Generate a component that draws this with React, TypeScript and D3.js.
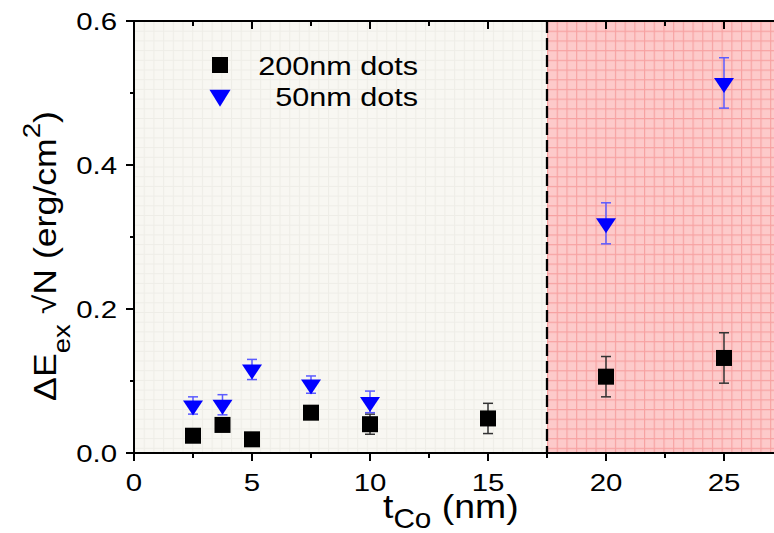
import React from "react";
import * as d3 from "d3";

const xs200 = [2.5, 3.75, 5, 7.5, 10, 15, 20, 25];
const ys200 = [0.024, 0.039, 0.019, 0.056, 0.040, 0.048, 0.106, 0.132];
const err200 = [0.003, 0.003, 0.003, 0.005, 0.014, 0.021, 0.028, 0.035];

const xs50 = [2.5, 3.75, 5, 7.5, 10, 20, 25];
const ys50 = [0.066, 0.067, 0.116, 0.095, 0.071, 0.319, 0.514];
const err50 = [0.012, 0.014, 0.014, 0.012, 0.015, 0.0285, 0.035];

const xTicks = [0, 5, 10, 15, 20, 25];
const xMinor = [2.5, 7.5, 12.5, 17.5, 22.5];
const yTicks = [0, 0.2, 0.4, 0.6];
const yMinor = [0.1, 0.3, 0.5];
const boundary = 17.5;
const legendLabels = ["200nm dots", "50nm dots"];

const W = 774, H = 533;
const L = 134, T = 21, B = 453;
const x = d3.scaleLinear().domain([0, 27.2]).range([L, L + 27.2 * 23.6]);
const y = d3.scaleLinear().domain([0, 0.6]).range([B, T]);

const FONT = "'Liberation Sans', Arial, Helvetica, sans-serif";
const SX = 1.2;

function tri(cx: number, cy: number, w = 20, h = 15) {
  // centroid at (cx, cy), pointing down
  const top = cy - h / 3;
  const apex = cy + (2 * h) / 3;
  return `M${cx - w / 2},${top}L${cx + w / 2},${top}L${cx},${apex}Z`;
}

function ErrBar({ cx, y0, y1, color }: { cx: number; y0: number; y1: number; color: string }) {
  return (
    <g stroke={color} strokeWidth={1.5}>
      <line x1={cx} x2={cx} y1={y0} y2={y1} />
      <line x1={cx - 5} x2={cx + 5} y1={y0} y2={y0} />
      <line x1={cx - 5} x2={cx + 5} y1={y1} y2={y1} />
    </g>
  );
}

export default function App() {
  const xb = x(boundary);
  const xr = W + 2;
  return (
    <svg width={W} height={H} style={{ position: "absolute", left: 0, top: 0 }} fontFamily={FONT}>
      <defs>
        <pattern id="pl" width={9.7} height={9.7} patternUnits="userSpaceOnUse" x={L} y={T}>
          <rect width={9.7} height={9.7} fill="#f8f7f2" />
          <path d="M0,0.5H9.7M0.5,0V9.7" stroke="#eeede7" strokeWidth={1} />
        </pattern>
        <pattern id="pr" width={9.7} height={9.7} patternUnits="userSpaceOnUse" x={xb} y={T}>
          <rect width={9.7} height={9.7} fill="#fdcaca" />
          <path d="M0,0.5H9.7M0.5,0V9.7" stroke="#f7a2a2" strokeWidth={1.3} />
        </pattern>
      </defs>
      <rect x={0} y={0} width={W} height={H} fill="#fff" />
      <rect x={L} y={T} width={xb - L} height={B - T} fill="url(#pl)" />
      <rect x={xb} y={T} width={xr - xb} height={B - T} fill="url(#pr)" />
      <line x1={xb} x2={xb} y1={T} y2={B} stroke="#000" strokeWidth={2.3} strokeDasharray="12,5" />

      {/* error bars */}
      {xs200.map((v, i) => (
        <ErrBar key={"e2" + i} cx={x(v)} y0={y(ys200[i] + err200[i])} y1={y(ys200[i] - err200[i])} color="#333" />
      ))}
      {xs50.map((v, i) => (
        <ErrBar key={"e5" + i} cx={x(v)} y0={y(ys50[i] + err50[i])} y1={y(ys50[i] - err50[i])} color="#5b5bff" />
      ))}
      {xs200.map((v, i) => (
        <rect key={"s" + i} x={x(v) - 8} y={y(ys200[i]) - 8} width={16} height={16} fill="#000" />
      ))}
      {xs50.map((v, i) => (
        <path key={"t" + i} d={tri(x(v), y(ys50[i]))} fill="#0000ff" />
      ))}

      {/* axes */}
      <g stroke="#000" strokeWidth={2} fill="none">
        <line x1={L} x2={xr} y1={B} y2={B} />
        <line x1={L} x2={xr} y1={T} y2={T} />
        <line x1={L} x2={L} y1={T - 1} y2={B + 1} />
        {xTicks.map((t) => (
          <g key={"xt" + t}>
            <line x1={x(t)} x2={x(t)} y1={B} y2={B + 8} />
            <line x1={x(t)} x2={x(t)} y1={T} y2={T + 8} />
          </g>
        ))}
        {xMinor.map((t) => (
          <g key={"xm" + t}>
            <line x1={x(t)} x2={x(t)} y1={B} y2={B + 5} />
            <line x1={x(t)} x2={x(t)} y1={T} y2={T + 5} />
          </g>
        ))}
        {yTicks.map((t) => (
          <line key={"yt" + t} x1={L - 8} x2={L} y1={y(t)} y2={y(t)} />
        ))}
        {yMinor.map((t) => (
          <line key={"ym" + t} x1={L - 4} x2={L} y1={y(t)} y2={y(t)} />
        ))}
      </g>

      {/* tick labels */}
      {xTicks.map((t) => (
        <text key={"xl" + t} transform={`translate(${x(t)},491) scale(${SX},1)`} textAnchor="middle" fontSize={24.5} fill="#000">
          {t}
        </text>
      ))}
      {yTicks.map((t) => (
        <text key={"yl" + t} transform={`translate(117,${y(t) + 8.5}) scale(${SX},1)`} textAnchor="end" fontSize={24.5} fill="#000">
          {t.toFixed(1)}
        </text>
      ))}

      {/* axis titles */}
      <text transform={`translate(383,518) scale(1.1,1)`} fontSize={34} fill="#000">
        <tspan>t</tspan>
        <tspan dy={10} fontSize={27}>Co</tspan>
        <tspan dy={-10}> (nm)</tspan>
      </text>
      <text transform={`translate(56,256) rotate(-90) scale(1.15,1)`} textAnchor="middle" fontSize={31} fill="#000">
        <tspan>ΔE</tspan>
        <tspan dy={14} fontSize={24}>ex</tspan>
        <tspan dy={-14}> √N (erg/cm</tspan>
        <tspan dy={-16} fontSize={24}>2</tspan>
        <tspan dy={16}>)</tspan>
      </text>

      {/* legend */}
      <rect x={212} y={57} width={16} height={16} fill="#000" />
      <path d={tri(220, 95.5, 21, 17)} fill="#0000ff" />
      {legendLabels.map((s, i) => (
        <text key={s} transform={`translate(418,${75 + i * 31}) scale(${SX},1)`} textAnchor="end" fontSize={25.5} fill="#000">
          {s}
        </text>
      ))}
    </svg>
  );
}
